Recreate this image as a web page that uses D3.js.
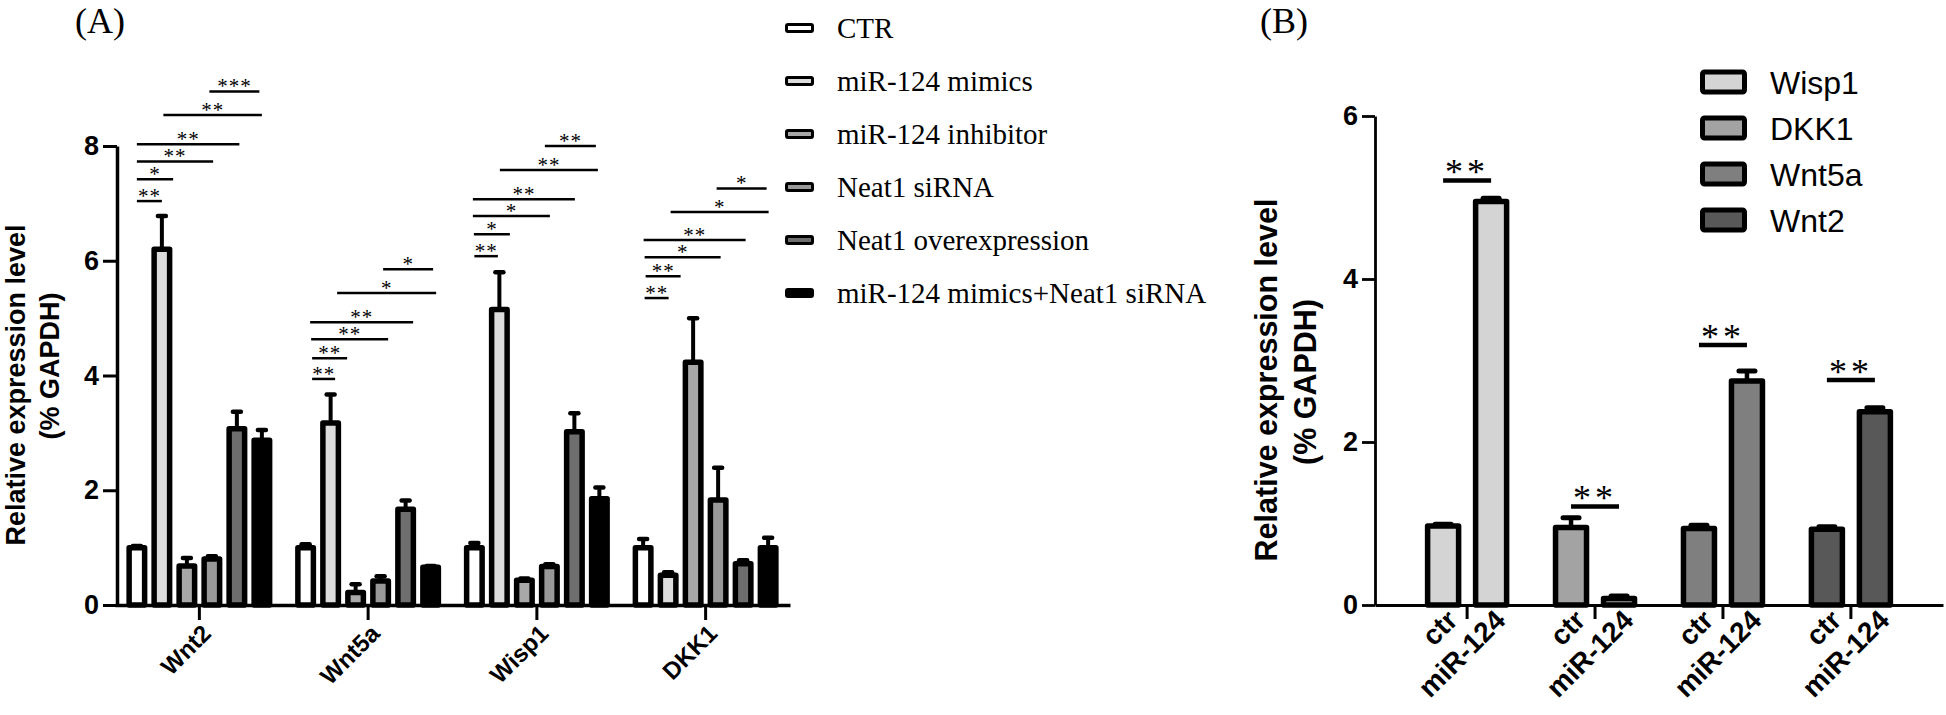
<!DOCTYPE html>
<html><head><meta charset="utf-8">
<script src="https://cdn.jsdelivr.net/npm/d3@7"></script>
<style>html,body{margin:0;padding:0;background:#fff;} svg{display:block}</style>
</head><body>
<svg id="chart" width="1946" height="715"></svg>
<script>
// ================= Panel A data =================
const genesA = ["Wnt2", "Wnt5a", "Wisp1", "DKK1"];
const treatmentsA = ["CTR", "miR-124 mimics", "miR-124 inhibitor", "Neat1 siRNA", "Neat1 overexpression", "miR-124 mimics+Neat1 siRNA"];
const treatmentColorsA = ["#ffffff", "#dcdcdc", "#a8a8a8", "#989898", "#6e6e6e", "#000000"];
// means per treatment, ordered by genesA
const ctrA       = [1.00, 1.00, 1.00, 1.00];
const mimicsA    = [6.20, 3.17, 5.15, 0.52];
const inhibitorA = [0.68, 0.22, 0.43, 4.23];
const siRNAA     = [0.80, 0.42, 0.67, 1.83];
const overexpA   = [3.07, 1.67, 3.02, 0.72];
const comboA     = [2.87, 0.66, 1.85, 1.00];
// error (upper SD) per treatment
const ctrErrA       = [0.03, 0.06, 0.08, 0.15];
const mimicsErrA    = [0.58, 0.50, 0.65, 0.05];
const inhibitorErrA = [0.14, 0.14, 0.03, 0.77];
const siRNAErrA     = [0.05, 0.08, 0.04, 0.56];
const overexpErrA   = [0.30, 0.15, 0.32, 0.06];
const comboErrA     = [0.18, 0.02, 0.20, 0.17];
const yTicksA = [0, 2, 4, 6, 8];
// significance brackets: [from bar index, to bar index, level, label]
const sigWnt2  = [[0, 1, 7.04, "**"], [0, 1.45, 7.42, "*"], [0, 3.05, 7.73, "**"], [0, 4.1, 8.03, "**"], [1.06, 5.0, 8.54, "**"], [2.9, 4.9, 8.95, "***"]];
const sigWnt5a = [[0.26, 1.18, 3.94, "**"], [0.26, 1.66, 4.30, "**"], [0.22, 3.3, 4.63, "**"], [0.18, 4.3, 4.93, "**"], [1.26, 5.22, 5.44, "*"], [3.1, 5.1, 5.85, "*"]];
const sigWisp1 = [[0, 0.94, 6.08, "**"], [-0.02, 1.42, 6.46, "*"], [-0.06, 3.02, 6.78, "*"], [-0.06, 4.02, 7.07, "**"], [1.02, 4.94, 7.58, "**"], [2.82, 4.86, 8.0, "**"]];
const sigDKK1  = [[0.06, 1.02, 5.35, "**"], [0.1, 1.5, 5.73, "**"], [0.06, 3.1, 6.06, "*"], [0.02, 4.1, 6.36, "**"], [1.1, 5.02, 6.85, "*"], [2.94, 4.94, 7.26, "*"]];

// ================= Panel B data =================
const genesB = ["Wisp1", "DKK1", "Wnt5a", "Wnt2"];
const conditionsB = ["ctr", "miR-124"];
const geneColorsB = ["#d4d4d4", "#a3a3a3", "#7f7f7f", "#585858"];
const ctrB     = [0.97, 0.95, 0.94, 0.93];
const ctrErrB  = [0.02, 0.12, 0.04, 0.03];
const mirB     = [4.95, 0.08, 2.75, 2.37];
const mirErrB  = [0.04, 0.03, 0.12, 0.05];
const sigLevelB = [5.21, 1.21, 3.19, 2.76];
const sigLabelB = ["**", "**", "**", "**"];
const yTicksB = [0, 2, 4, 6];

const yTitle1 = "Relative expression level";
const yTitle2 = "(% GAPDH)";

// ================= Drawing =================
const svg = d3.select("#chart");
const sans = "'Liberation Sans', Arial, sans-serif";
const serif = "'Liberation Serif', 'Times New Roman', serif";

// ---------- Panel A ----------
const meansA = [ctrA, mimicsA, inhibitorA, siRNAA, overexpA, comboA];
const errsA = [ctrErrA, mimicsErrA, inhibitorErrA, siRNAErrA, overexpErrA, comboErrA];
const sigA = { Wnt2: sigWnt2, Wnt5a: sigWnt5a, Wisp1: sigWisp1, DKK1: sigDKK1 };

const xA = d3.scaleBand().domain(genesA).range([115, 790]);
const xInA = d3.scaleBand().domain(d3.range(treatmentsA.length)).range([-75, 75]);
const yA = d3.scaleLinear().domain([0, 8]).range([605, 146]);
const idxA = d3.scaleLinear().domain([0, 1]).range([xInA(0) + xInA.bandwidth() / 2, xInA(1) + xInA.bandwidth() / 2]);
const gcA = g => xA(g) + xA.bandwidth() / 2;

const barsA = [];
genesA.forEach((g, gi) => treatmentsA.forEach((t, ti) => barsA.push({ g, ti, v: meansA[ti][gi], e: errsA[ti][gi] })));
const bcA = d => gcA(d.g) + idxA(d.ti);
const bwA = 15.5;

const gA = svg.append("g");
// error bars
gA.selectAll("line.err").data(barsA).join("line")
  .attr("x1", bcA).attr("x2", bcA)
  .attr("y1", d => yA(d.v)).attr("y2", d => yA(d.v + d.e))
  .attr("stroke", "#000").attr("stroke-width", 4);
gA.selectAll("line.cap").data(barsA).join("line")
  .attr("x1", d => bcA(d) - 4).attr("x2", d => bcA(d) + 4)
  .attr("y1", d => yA(d.v + d.e)).attr("y2", d => yA(d.v + d.e))
  .attr("stroke", "#000").attr("stroke-width", 4.5).attr("stroke-linecap", "round");
// bars
gA.selectAll("rect.bar").data(barsA).join("rect")
  .attr("x", d => bcA(d) - bwA / 2).attr("width", bwA)
  .attr("y", d => yA(d.v)).attr("height", d => yA(0) - yA(d.v))
  .attr("fill", d => treatmentColorsA[d.ti])
  .attr("stroke", "#000").attr("stroke-width", 5.5).attr("stroke-linejoin", "round");

// axes A
const axYA = svg.append("g").attr("transform", "translate(117,0)")
  .call(d3.axisLeft(yA).tickValues(yTicksA).tickFormat(d3.format("d")).tickSize(14).tickSizeOuter(0).tickPadding(4));
axYA.select(".domain").attr("stroke-width", 3.5);
axYA.selectAll(".tick line").attr("stroke-width", 3);
axYA.selectAll(".tick text").attr("font-family", sans).attr("font-weight", "bold").attr("font-size", 27).attr("fill", "#000");

const axXA = svg.append("g").attr("transform", "translate(0,605)")
  .call(d3.axisBottom(xA).tickSize(15).tickSizeOuter(0));
axXA.select(".domain").attr("stroke-width", 3.5);
axXA.selectAll(".tick line").attr("stroke-width", 3);
axXA.selectAll(".tick text")
  .attr("x", 0).attr("y", 0).attr("dy", 0)
  .attr("transform", "translate(13,30) rotate(-45)")
  .style("text-anchor", "end")
  .attr("font-family", sans).attr("font-weight", "bold").attr("font-size", 24).attr("fill", "#000");

// significance A
const sigRowsA = [];
genesA.forEach(g => sigA[g].forEach(s => sigRowsA.push({ g, a: s[0], b: s[1], lv: s[2], lab: s[3] })));
gA.selectAll("line.sig").data(sigRowsA).join("line")
  .attr("x1", d => gcA(d.g) + idxA(d.a)).attr("x2", d => gcA(d.g) + idxA(d.b))
  .attr("y1", d => yA(d.lv)).attr("y2", d => yA(d.lv))
  .attr("stroke", "#000").attr("stroke-width", 2.5);
gA.selectAll("text.sig").data(sigRowsA).join("text")
  .attr("x", d => gcA(d.g) + (idxA(d.a) + idxA(d.b)) / 2)
  .attr("y", d => yA(d.lv) + 2)
  .attr("text-anchor", "middle")
  .attr("font-family", serif).attr("font-size", 21).attr("letter-spacing", 1)
  .text(d => d.lab);

// legend A
const lyA = d3.scalePoint().domain(treatmentsA).range([28, 293]);
const legA = svg.append("g");
legA.selectAll("rect").data(treatmentsA).join("rect")
  .attr("x", 786.5).attr("y", d => lyA(d) - 3.5).attr("width", 26).attr("height", 7).attr("rx", 1.5)
  .attr("fill", (d, i) => treatmentColorsA[i]).attr("stroke", "#000").attr("stroke-width", 3);
legA.selectAll("text").data(treatmentsA).join("text")
  .attr("x", 837).attr("y", d => lyA(d) + 9.5)
  .attr("font-family", serif).attr("font-size", 29).attr("fill", "#000")
  .text(d => d);

// y title A
svg.append("text").attr("transform", "translate(25,385) rotate(-90)")
  .attr("text-anchor", "middle").attr("font-family", sans).attr("font-weight", "bold").attr("font-size", 27).text(yTitle1);
svg.append("text").attr("transform", "translate(59,366) rotate(-90)")
  .attr("text-anchor", "middle").attr("font-family", sans).attr("font-weight", "bold").attr("font-size", 27).text(yTitle2);

// panel label A
svg.append("text").attr("x", 75).attr("y", 33).attr("font-family", serif).attr("font-size", 36).text("(A)");

// ---------- Panel B ----------
const xB = d3.scaleBand().domain(genesB).range([1375, 1943]).paddingOuter(0.22).paddingInner(0);
const xInB = d3.scaleBand().domain(conditionsB).range([-48, 48]);
const yB = d3.scaleLinear().domain([0, 6]).range([605, 116]);
const gcB = g => xB(g) + xB.bandwidth() / 2;
const meansB = [ctrB, mirB];
const errsB = [ctrErrB, mirErrB];
const barsB = [];
genesB.forEach((g, gi) => conditionsB.forEach((c, ci) => barsB.push({ g, gi, c, v: meansB[ci][gi], e: errsB[ci][gi] })));
const bcB = d => gcB(d.g) + xInB(d.c) + xInB.bandwidth() / 2;
const bwB = 31;

const gB = svg.append("g");
gB.selectAll("line.err").data(barsB).join("line")
  .attr("x1", bcB).attr("x2", bcB)
  .attr("y1", d => yB(d.v)).attr("y2", d => yB(d.v + d.e))
  .attr("stroke", "#000").attr("stroke-width", 4.5);
gB.selectAll("line.cap").data(barsB).join("line")
  .attr("x1", d => bcB(d) - 8).attr("x2", d => bcB(d) + 8)
  .attr("y1", d => yB(d.v + d.e)).attr("y2", d => yB(d.v + d.e))
  .attr("stroke", "#000").attr("stroke-width", 5).attr("stroke-linecap", "round");
gB.selectAll("rect.bar").data(barsB).join("rect")
  .attr("x", d => bcB(d) - bwB / 2).attr("width", bwB)
  .attr("y", d => yB(d.v)).attr("height", d => yB(0) - yB(d.v))
  .attr("fill", d => geneColorsB[d.gi])
  .attr("stroke", "#000").attr("stroke-width", 5.5).attr("stroke-linejoin", "round");

const axYB = svg.append("g").attr("transform", "translate(1375,0)")
  .call(d3.axisLeft(yB).tickValues(yTicksB).tickFormat(d3.format("d")).tickSize(13).tickSizeOuter(0).tickPadding(4));
axYB.select(".domain").attr("stroke-width", 2.8);
axYB.selectAll(".tick line").attr("stroke-width", 2.8);
axYB.selectAll(".tick text").attr("font-family", sans).attr("font-weight", "bold").attr("font-size", 27).attr("fill", "#000");

const axXB = svg.append("g").attr("transform", "translate(0,605)")
  .call(d3.axisBottom(xB).tickSize(14).tickSizeOuter(0).tickFormat(""));
axXB.select(".domain").attr("stroke-width", 3);
axXB.selectAll(".tick line").attr("stroke-width", 3);

// condition labels under each bar
gB.selectAll("text.cond").data(barsB).join("text")
  .attr("transform", d => `translate(${bcB(d) + 16},${622}) rotate(-45)`)
  .attr("text-anchor", "end")
  .attr("font-family", sans).attr("font-weight", "bold").attr("font-size", 28).attr("fill", "#000")
  .text(d => d.c);

// significance B
gB.selectAll("line.sig").data(genesB).join("line")
  .attr("x1", d => gcB(d) + xInB("ctr") + xInB.bandwidth() / 2)
  .attr("x2", d => gcB(d) + xInB("miR-124") + xInB.bandwidth() / 2)
  .attr("y1", (d, i) => yB(sigLevelB[i])).attr("y2", (d, i) => yB(sigLevelB[i]))
  .attr("stroke", "#000").attr("stroke-width", 4.5);
gB.selectAll("text.sig").data(genesB).join("text")
  .attr("x", d => gcB(d))
  .attr("y", (d, i) => yB(sigLevelB[i]) + 4)
  .attr("text-anchor", "middle")
  .attr("font-family", serif).attr("font-size", 36).attr("letter-spacing", 4)
  .text((d, i) => sigLabelB[i]);

// legend B
const lyB = d3.scalePoint().domain(genesB).range([82, 220]);
const legB = svg.append("g");
legB.selectAll("rect").data(genesB).join("rect")
  .attr("x", 1702.5).attr("y", d => lyB(d) - 10).attr("width", 42).attr("height", 20).attr("rx", 2)
  .attr("fill", (d, i) => geneColorsB[i]).attr("stroke", "#000").attr("stroke-width", 5);
legB.selectAll("text").data(genesB).join("text")
  .attr("x", 1770).attr("y", d => lyB(d) + 11.5)
  .attr("font-family", sans).attr("font-size", 32).attr("fill", "#000")
  .text(d => d);

// y title B
svg.append("text").attr("transform", "translate(1277,380) rotate(-90)")
  .attr("text-anchor", "middle").attr("font-family", sans).attr("font-weight", "bold").attr("font-size", 30.5).text(yTitle1);
svg.append("text").attr("transform", "translate(1316,382) rotate(-90)")
  .attr("text-anchor", "middle").attr("font-family", sans).attr("font-weight", "bold").attr("font-size", 30.5).text(yTitle2);

svg.append("text").attr("x", 1260).attr("y", 33).attr("font-family", serif).attr("font-size", 36).text("(B)");
</script>
</body></html>
